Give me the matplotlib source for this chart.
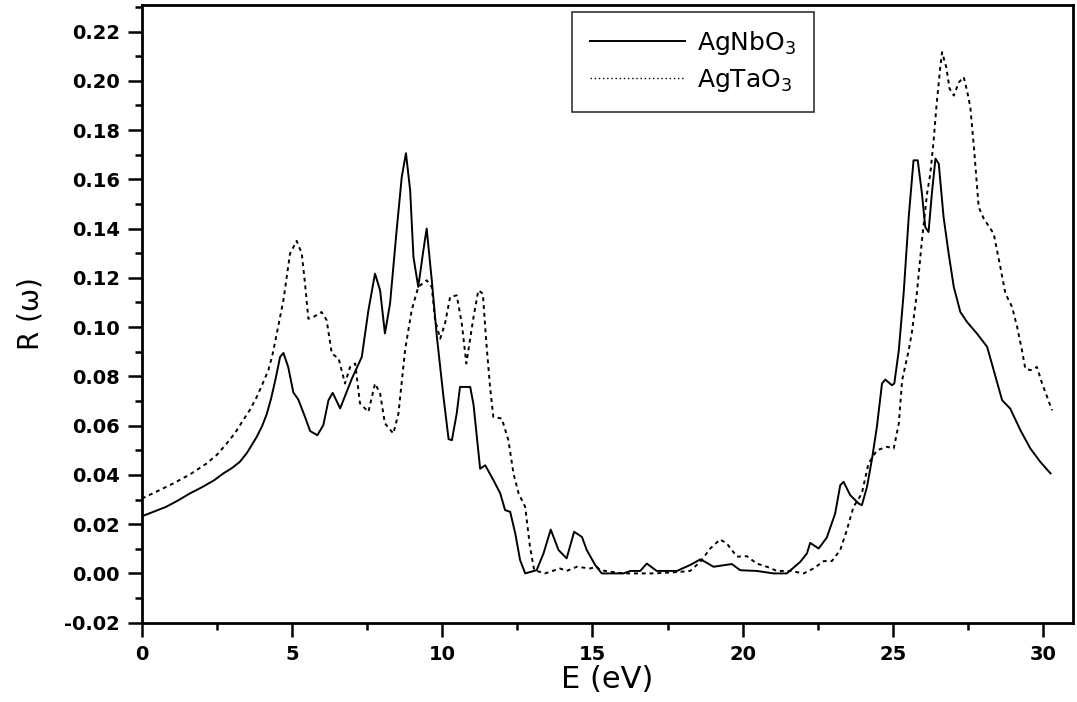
import matplotlib
matplotlib.use("Agg")
import matplotlib.pyplot as plt
from matplotlib.ticker import MultipleLocator, FormatStrFormatter

# AgNbO3 (solid)
e_nb = [0.0, 0.4, 0.8, 1.2, 1.6, 2.0, 2.4, 2.71, 3.0, 3.26, 3.5, 3.82, 4.0, 4.15, 4.3, 4.45,
        4.6, 4.71, 4.87, 5.04, 5.21, 5.43,
        5.6, 5.84, 6.04, 6.21, 6.35, 6.6, 6.99, 7.32, 7.54, 7.76, 7.93, 8.09, 8.26, 8.48,
        8.65, 8.79, 8.93, 9.04, 9.2, 9.37, 9.48, 9.65, 9.82, 10.04, 10.21, 10.32, 10.48,
        10.59, 10.93, 11.04, 11.26, 11.43, 11.7, 11.93, 12.09, 12.26, 12.43, 12.59, 12.76,
        13.14, 13.37, 13.61, 13.87, 14.14, 14.39, 14.65, 14.81, 15.09, 15.31, 16.03, 16.26,
        16.59, 16.81, 17.14, 17.81, 18.25, 18.59, 18.75, 19.03, 19.64, 19.92, 20.47, 21.03,
        21.47, 21.92, 22.14, 22.25, 22.53, 22.8, 23.08, 23.25, 23.36, 23.58, 23.86, 23.97,
        24.14, 24.31, 24.47, 24.64, 24.75, 24.97, 25.05, 25.2, 25.36, 25.53, 25.69, 25.83,
        25.97, 26.08, 26.19, 26.3, 26.42, 26.53, 26.69, 26.86, 27.03, 27.25, 27.47, 27.8,
        28.14, 28.36, 28.64, 28.91, 29.25, 29.58, 29.91, 30.25]
r_nb = [0.0232, 0.0251, 0.0270, 0.0296, 0.0325, 0.0350, 0.0378, 0.0406, 0.0428, 0.0453, 0.0490,
        0.0554, 0.0598, 0.0645, 0.0710, 0.0790,
        0.0879, 0.0895, 0.0838, 0.0735, 0.0705, 0.0635, 0.0578, 0.0561, 0.0602, 0.0703, 0.0733,
        0.0670, 0.0791, 0.0879, 0.1068, 0.1217, 0.1149, 0.0974, 0.1095, 0.1393, 0.1609,
        0.1706, 0.1555, 0.1284, 0.1163, 0.1312, 0.1400, 0.1190, 0.0960, 0.0716, 0.0545,
        0.0541, 0.0649, 0.0757, 0.0757, 0.0685, 0.0425, 0.0439, 0.0379, 0.0325, 0.0257,
        0.0250, 0.0162, 0.0054, 0.0000, 0.0013, 0.0081, 0.0178, 0.0095, 0.0061, 0.0169,
        0.0148, 0.0095, 0.0034, 0.0000, 0.0000, 0.0010, 0.0010, 0.0040, 0.0010, 0.0010,
        0.0034, 0.0057, 0.0047, 0.0027, 0.0038, 0.0013, 0.0010, 0.0000, 0.0000, 0.0047,
        0.0081, 0.0124, 0.0101, 0.0145, 0.0243, 0.0358, 0.0372, 0.0318, 0.0284, 0.0277,
        0.0351, 0.0467, 0.0595, 0.0771, 0.0787, 0.0764, 0.0771, 0.0906, 0.1136, 0.1447,
        0.1677, 0.1677, 0.1542, 0.1406, 0.1386, 0.1542, 0.1684, 0.1663, 0.1447, 0.1298,
        0.1163, 0.1061, 0.1021, 0.0974, 0.0920, 0.0825, 0.0703, 0.0669, 0.0581, 0.0507,
        0.0453, 0.0406]

# AgTaO3 (dotted)
e_ta = [0.0, 0.5, 1.04, 1.6, 2.15, 2.5, 2.82, 3.1, 3.37, 3.6, 3.82, 4.0, 4.21, 4.35, 4.49,
        4.71, 4.93, 5.15, 5.32, 5.43,
        5.54, 5.71, 5.98, 6.15, 6.32, 6.55, 6.76, 6.93, 7.1, 7.26, 7.54, 7.76, 7.93, 8.09,
        8.37, 8.54, 8.76, 8.98, 9.2, 9.48, 9.65, 9.76, 9.93, 10.09, 10.26, 10.48, 10.65,
        10.8, 11.04, 11.2, 11.35, 11.46, 11.59, 11.7, 11.98, 12.2, 12.37, 12.54, 12.76,
        12.92, 13.06, 13.42, 13.92, 14.14, 14.48, 14.92, 15.14, 15.26, 16.03, 17.04, 17.81,
        18.25, 18.59, 18.92, 19.25, 19.47, 19.81, 20.14, 20.47, 20.81, 21.14, 21.59, 22.03,
        22.36, 22.7, 22.97, 23.25, 23.47, 23.69, 23.97, 24.19, 24.47, 24.81, 25.03, 25.2,
        25.31, 25.53, 25.63, 25.8, 25.97, 26.14, 26.25, 26.36, 26.45, 26.58, 26.64, 26.78,
        26.89, 27.03, 27.2, 27.36, 27.47, 27.58, 27.7, 27.86, 28.03, 28.36, 28.58, 28.75,
        28.97, 29.14, 29.3, 29.41, 29.58, 29.8, 29.97, 30.14, 30.3]
r_ta = [0.0304, 0.0333, 0.0365, 0.0402, 0.0446, 0.0482, 0.0527, 0.0570, 0.0622, 0.0665,
        0.0716, 0.0765, 0.0825, 0.0890, 0.0974, 0.1109,
        0.1298, 0.1350, 0.1300, 0.1176, 0.1034, 0.1041, 0.1061, 0.1028, 0.0893, 0.0872,
        0.0771, 0.0838, 0.0852, 0.0690, 0.0656, 0.0771, 0.0730, 0.0609, 0.0568, 0.0649,
        0.0906, 0.1068, 0.1163, 0.1190, 0.1163, 0.1028, 0.0953, 0.1014, 0.1122, 0.1129,
        0.1014, 0.0852, 0.1041, 0.1149, 0.1136, 0.0946, 0.0757, 0.0635, 0.0629, 0.0541,
        0.0406, 0.0325, 0.0270, 0.0108, 0.0013, 0.0000, 0.0020, 0.0010, 0.0027, 0.0020,
        0.0027, 0.0013, 0.0000, 0.0000, 0.0005, 0.0010, 0.0047, 0.0101, 0.0138, 0.0122,
        0.0068, 0.0070, 0.0040, 0.0027, 0.0010, 0.0010, 0.0000, 0.0020, 0.0050, 0.0050,
        0.0095, 0.0176, 0.0270, 0.0325, 0.0446, 0.0500, 0.0514, 0.0507, 0.0609, 0.0784,
        0.0906, 0.0974, 0.1136, 0.1352, 0.1542, 0.1623, 0.1758, 0.1893, 0.2055, 0.2116,
        0.2055, 0.1968, 0.1940, 0.1994, 0.2015, 0.1961, 0.1893, 0.1731, 0.1487, 0.1440,
        0.1379, 0.1244, 0.1136, 0.1082, 0.1000, 0.0906, 0.0832, 0.0825, 0.0838, 0.0771,
        0.0716, 0.0662]

x_ticks = [0, 5, 10, 15, 20, 25, 30]
y_ticks = [-0.02, 0.00, 0.02, 0.04, 0.06, 0.08, 0.10, 0.12, 0.14, 0.16, 0.18, 0.20, 0.22]

fig = plt.figure(figsize=(10.77, 7.02), dpi=100)
ax = fig.add_axes([0.1318, 0.113, 0.8645, 0.880])

ax.plot(e_nb, r_nb, color="black", lw=1.4, ls="-", label="AgNbO$_3$")
ax.plot(e_ta, r_ta, color="black", lw=1.4, ls=(0, (2, 2)), label="AgTaO$_3$")

ax.set_xlim(0, 31)
ax.set_ylim(-0.02, 0.2308)
ax.set_xticks(x_ticks)
ax.set_yticks(y_ticks)
ax.xaxis.set_minor_locator(MultipleLocator(2.5))
ax.yaxis.set_minor_locator(MultipleLocator(0.01))
ax.yaxis.set_major_formatter(FormatStrFormatter("%.2f"))

for s in ax.spines.values():
    s.set_linewidth(2.0)
ax.tick_params(axis="both", which="major", direction="out", length=10, width=1.8,
               labelsize=14, pad=6)
ax.tick_params(axis="both", which="minor", direction="out", length=5, width=1.8)
ax.tick_params(top=False, right=False, which="both")
for lab in ax.get_xticklabels() + ax.get_yticklabels():
    lab.set_fontweight("bold")
    lab.set_family("DejaVu Sans")

ax.set_xlabel("E (eV)", fontsize=22, labelpad=1)
ax.set_ylabel("R (\u03c9)", fontsize=20, labelpad=14)

leg = ax.legend(loc="upper left", bbox_to_anchor=(0.462, 0.989), borderaxespad=0,
                fontsize=18, frameon=True, fancybox=False, edgecolor="black",
                handlelength=3.8, handletextpad=0.5, borderpad=0.7, labelspacing=0.4)
leg.get_frame().set_linewidth(1.2)
leg.get_lines()[1].set_linestyle((0, (1, 2)))
leg.get_lines()[1].set_linewidth(1.0)

fig.savefig("out.png", dpi=100)
